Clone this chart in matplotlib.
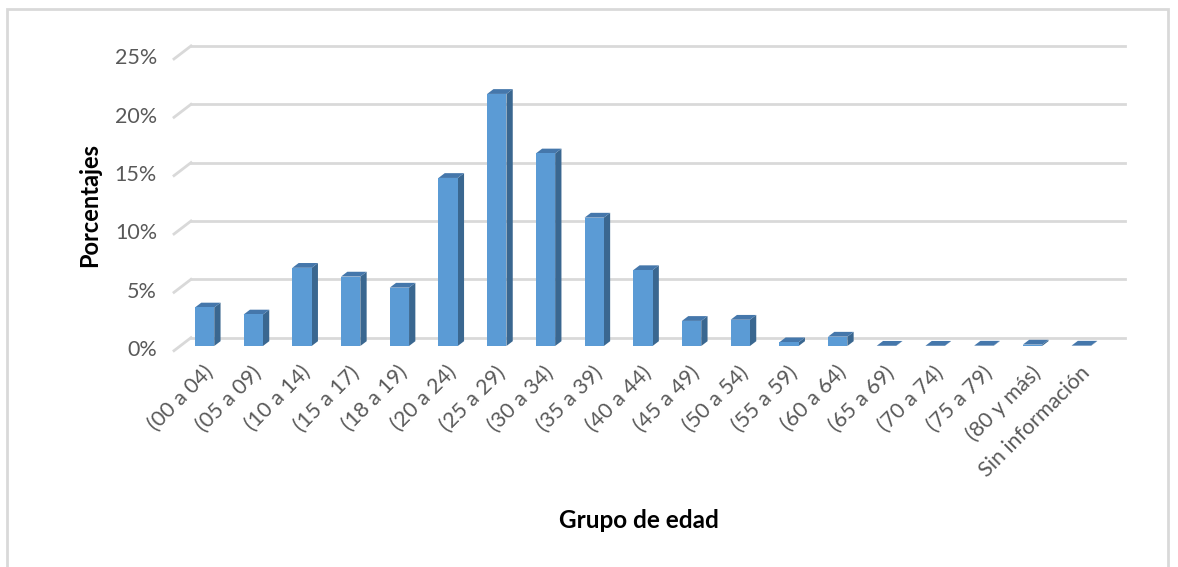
import numpy as np
import matplotlib.pyplot as plt
from matplotlib.patches import Polygon, Rectangle

plt.rcParams['font.family'] = ['Lato', 'DejaVu Sans']

grupos = ['(00 a 04)', '(05 a 09)', '(10 a 14)', '(15 a 17)', '(18 a 19)',
          '(20 a 24)', '(25 a 29)', '(30 a 34)', '(35 a 39)', '(40 a 44)',
          '(45 a 49)', '(50 a 54)', '(55 a 59)', '(60 a 64)', '(65 a 69)',
          '(70 a 74)', '(75 a 79)', '(80 y más)', 'Sin información']
porcentajes = [3.3, 2.7, 6.7, 5.95, 5.0, 14.4, 21.6, 16.5, 11.0, 6.5,
               2.15, 2.25, 0.32, 0.8, 0.02, 0.02, 0.03, 0.12, 0.03]
yticks = [0, 5, 10, 15, 20, 25]

c_front = '#5b9bd5'
c_side = '#3a6790'
c_top = '#4577ab'
c_grid = '#d9d9d9'
c_text = '#595959'

W, H = 1178, 567
fig = plt.figure(figsize=(W/100, H/100), dpi=100)

# pixel geometry of the 3d look
px_x = 48.7      # px per category
px_y = 11.67     # px per percent
x0_px, y0_px = 204.6, 346.0   # first bar centre / bar base
left_px, right_px, top_px, bot_px = 150, 1150, 20, 400
ax = fig.add_axes([left_px/W, 1-bot_px/H, (right_px-left_px)/W, (bot_px-top_px)/H])
ax.set_xlim((left_px-x0_px)/px_x, (right_px-x0_px)/px_x)
ax.set_ylim((y0_px-bot_px)/px_y, (y0_px-top_px)/px_y)
ax.axis('off')

w = 19.3/px_x              # bar width
bdx, bdy = 6.3/px_x, 4.8/px_y   # bar depth
fdy = -4.7/px_y   # floor front edge relative to bars
kdy = 8.3/px_y    # back wall relative to bars
xa = (174-x0_px)/px_x
xb = (191-x0_px)/px_x
wall_end = (1125-x0_px)/px_x

# back wall gridlines and side wall diagonals
for t in yticks:
    ax.plot([xb, wall_end], [t+kdy, t+kdy], color=c_grid, lw=2, zorder=1)
    ax.plot([xa, xb], [t+fdy, t+kdy], color=c_grid, lw=2, zorder=1)
    ax.text((157-x0_px)/px_x, t+fdy+0.05, f'{t}%', ha='right', va='center',
            fontsize=15.5, color=c_text)

x = np.arange(len(grupos))
ax.bar(x, porcentajes, width=w, color=c_front, zorder=3)
for xi, v in zip(x, porcentajes):
    r = xi + w/2
    l = xi - w/2
    ax.add_patch(Polygon([(r, 0), (r+bdx, bdy), (r+bdx, v+bdy), (r, v)],
                         closed=True, facecolor=c_side, edgecolor='none', zorder=2))
    ax.add_patch(Polygon([(l, v), (r, v), (r+bdx, v+bdy), (l+bdx, v+bdy)],
                         closed=True, facecolor=c_top, edgecolor='none', zorder=2))
    ax.text(xi-0.04, -1.4, grupos[xi], rotation=45, rotation_mode='anchor',
            ha='right', va='top', fontsize=15.5, color=c_text)

fig.text(90/W, 1-205/H, 'Porcentajes', rotation=90, ha='center', va='center',
         fontsize=17, fontweight='bold', color='black')
fig.text(639/W, 1-520/H, 'Grupo de edad', ha='center', va='center',
         fontsize=17.5, fontweight='bold', color='black')

fig.patches.append(Rectangle((7/W, -0.05), (1168-7)/W, 1.05-9/H, transform=fig.transFigure,
                             fill=False, edgecolor=c_grid, lw=2))

fig.savefig('out.png', dpi=100)
